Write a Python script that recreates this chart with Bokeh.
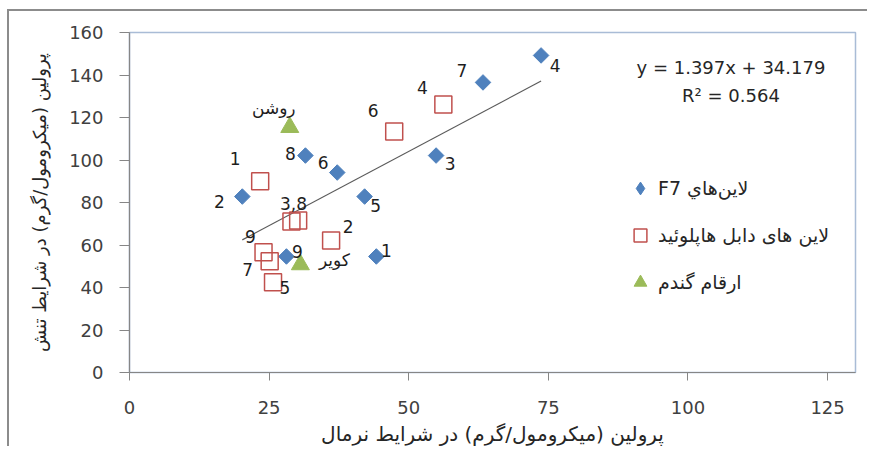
import numpy as np
from bokeh.plotting import figure
from bokeh.models import ColumnDataSource, FixedTicker, Label, Legend, LegendItem, Range1d
from bokeh.core.properties import value
from bokeh.embed import file_html
from bokeh.resources import INLINE

# ---------------- data ----------------
f7_labels = ["1", "2", "3", "4", "5", "6", "7", "8", "9"]
f7_normal = [44.2, 20.2, 54.9, 73.7, 42.1, 37.2, 63.3, 31.5, 28.1]
f7_stress = [54.6, 82.8, 102.1, 149.2, 82.8, 94.1, 136.5, 102.1, 54.6]

dh_labels = ["1", "2", "3,8", "4", "5", "6", "7", "", "9"]
dh_normal = [23.4, 36.1, 29.0, 56.2, 25.7, 47.4, 25.1, 30.2, 24.0]
dh_stress = [90.0, 62.1, 71.1, 126.1, 42.5, 113.4, 52.4, 71.5, 56.6]

cv_labels = ["روشن", "کویر"]
cv_normal = [28.7, 30.6]
cv_stress = [115.4, 50.8]

trend_slope = 1.397
trend_intercept = 34.179
r_squared = 0.564

x_ticks = [0, 25, 50, 75, 100, 125]
y_ticks = [0, 20, 40, 60, 80, 100, 120, 140, 160]

# RLE ... PDF keeps the right-to-left reading order of the mixed label
legend_names = ["\u202bلاین‌هاي F7\u202c", "لاین های دابل هاپلوئید", "ارقام گندم"]
x_title = "پرولین (میکرومول/گرم) در شرایط نرمال"
y_title = "پرولین (میکرومول/گرم) در شرایط تنش"

# label offsets in screen pixels (dx, dy; dy positive = down)
f7_dx = [10, -23, 14, 14, 11, -14, -21, -15, 11]
f7_dy = [-6, 5, 8, 10, 9, -10, -12, -2, -5]
dh_dx = [-25, 17, 2, -21, 12, -21, -22, 0, -13]
dh_dy = [-23, -14, -18, -17, 5, -21, 8, 0, -16]
cv_dx = [-16, 34]
cv_dy = [-19, -5]

FONT = "DejaVu Sans"

p = figure(width=860, height=437, output_backend="svg", toolbar_location=None,
           x_range=Range1d(0, 130), y_range=Range1d(0, 160),
           min_border_left=120, min_border_top=21, min_border_right=14, min_border_bottom=76)
p.styles = {"margin-left": "7px", "margin-top": "9px",
            "border-left": "2px solid #8c8c8c", "border-top": "2px solid #8c8c8c"}
p.xgrid.visible = False
p.ygrid.visible = False
p.outline_line_color = "#a9bcd6"
p.outline_line_width = 1.5

for ax in (p.xaxis[0], p.yaxis[0]):
    ax.axis_line_color = "#868686"
    ax.axis_line_width = 1.2
    ax.major_tick_line_color = "#868686"
    ax.major_tick_in = 0
    ax.minor_tick_line_color = None
    ax.major_label_text_font = FONT
    ax.major_label_text_font_size = "18px"
    ax.major_label_text_color = "#404040"
    ax.axis_label_text_font = FONT
    ax.axis_label_text_font_style = "normal"
    ax.axis_label_text_color = "#262626"
p.xaxis.ticker = FixedTicker(ticks=x_ticks)
p.yaxis.ticker = FixedTicker(ticks=y_ticks)
p.xaxis.major_tick_out = 8
p.yaxis.major_tick_out = 10
p.xaxis.major_label_standoff = 20
p.yaxis.major_label_standoff = 16

p.xaxis.axis_label = x_title
p.xaxis.axis_label_text_font_size = "20px"
p.xaxis.axis_label_standoff = 5

p.yaxis.axis_label = y_title
p.yaxis.axis_label_text_font_size = "18px"
p.yaxis.axis_label_standoff = 16

# trend line
all_x = f7_normal + dh_normal + cv_normal
tx = [min(all_x), max(all_x)]
ty = [trend_slope * v + trend_intercept for v in tx]
p.line(tx, ty, line_color="#5a5a5a", line_width=1.2)

src_f7 = ColumnDataSource(dict(x=f7_normal, y=f7_stress, t=f7_labels, dx=f7_dx, dy=f7_dy))
src_dh = ColumnDataSource(dict(x=dh_normal, y=dh_stress, t=dh_labels, dx=dh_dx, dy=dh_dy))
src_cv = ColumnDataSource(dict(x=cv_normal, y=cv_stress, t=cv_labels, dx=cv_dx, dy=cv_dy))

p.scatter("x", "y", source=src_f7, marker="square", angle=np.pi / 4, size=11,
          fill_color="#4f81bd", line_color="#4f81bd")
# hidden legend proxy for the F7 series (a diamond glyph in the legend only)
r_f7 = p.scatter("x", "y", source=src_f7, marker="diamond", size=16,
                 fill_color="#4f81bd", line_color="#4f81bd", visible=False)
r_dh = p.scatter("x", "y", source=src_dh, marker="square", size=17,
                 fill_color=None, line_color="#c0504d", line_width=1.5)
r_cv = p.scatter("x", "y", source=src_cv, marker="triangle", size=18,
                 fill_color="#9bbb59", line_color="#9bbb59")

for src in (src_f7, src_dh, src_cv):
    p.text("x", "y", text="t", x_offset="dx", y_offset="dy", source=src,
           text_align="center", text_baseline="middle",
           text_font=value(FONT), text_font_size="17px", text_color="#1e1e1e")

# equation
p.add_layout(Label(x=107.7, y=143.5, text=f"y = {trend_slope}x + {trend_intercept}",
                   text_align="center", text_baseline="middle",
                   text_font=FONT, text_font_size="18px", text_color="#262626"))
p.add_layout(Label(x=107.7, y=130.4, text=f"R² = {r_squared}",
                   text_align="center", text_baseline="middle",
                   text_font=FONT, text_font_size="18px", text_color="#262626"))

legend = Legend(items=[LegendItem(label=legend_names[0], renderers=[r_f7]),
                       LegendItem(label=legend_names[1], renderers=[r_dh]),
                       LegendItem(label=legend_names[2], renderers=[r_cv])],
                location=(495, 74), padding=0, margin=0, spacing=15,
                glyph_width=32, glyph_height=32, label_height=20, label_standoff=2,
                background_fill_alpha=0, border_line_alpha=0, inactive_fill_alpha=0,
                label_text_font=FONT, label_text_font_size="19px", label_text_color="#262626")
p.add_layout(legend)

open("out.html", "w").write(file_html(p, INLINE))
